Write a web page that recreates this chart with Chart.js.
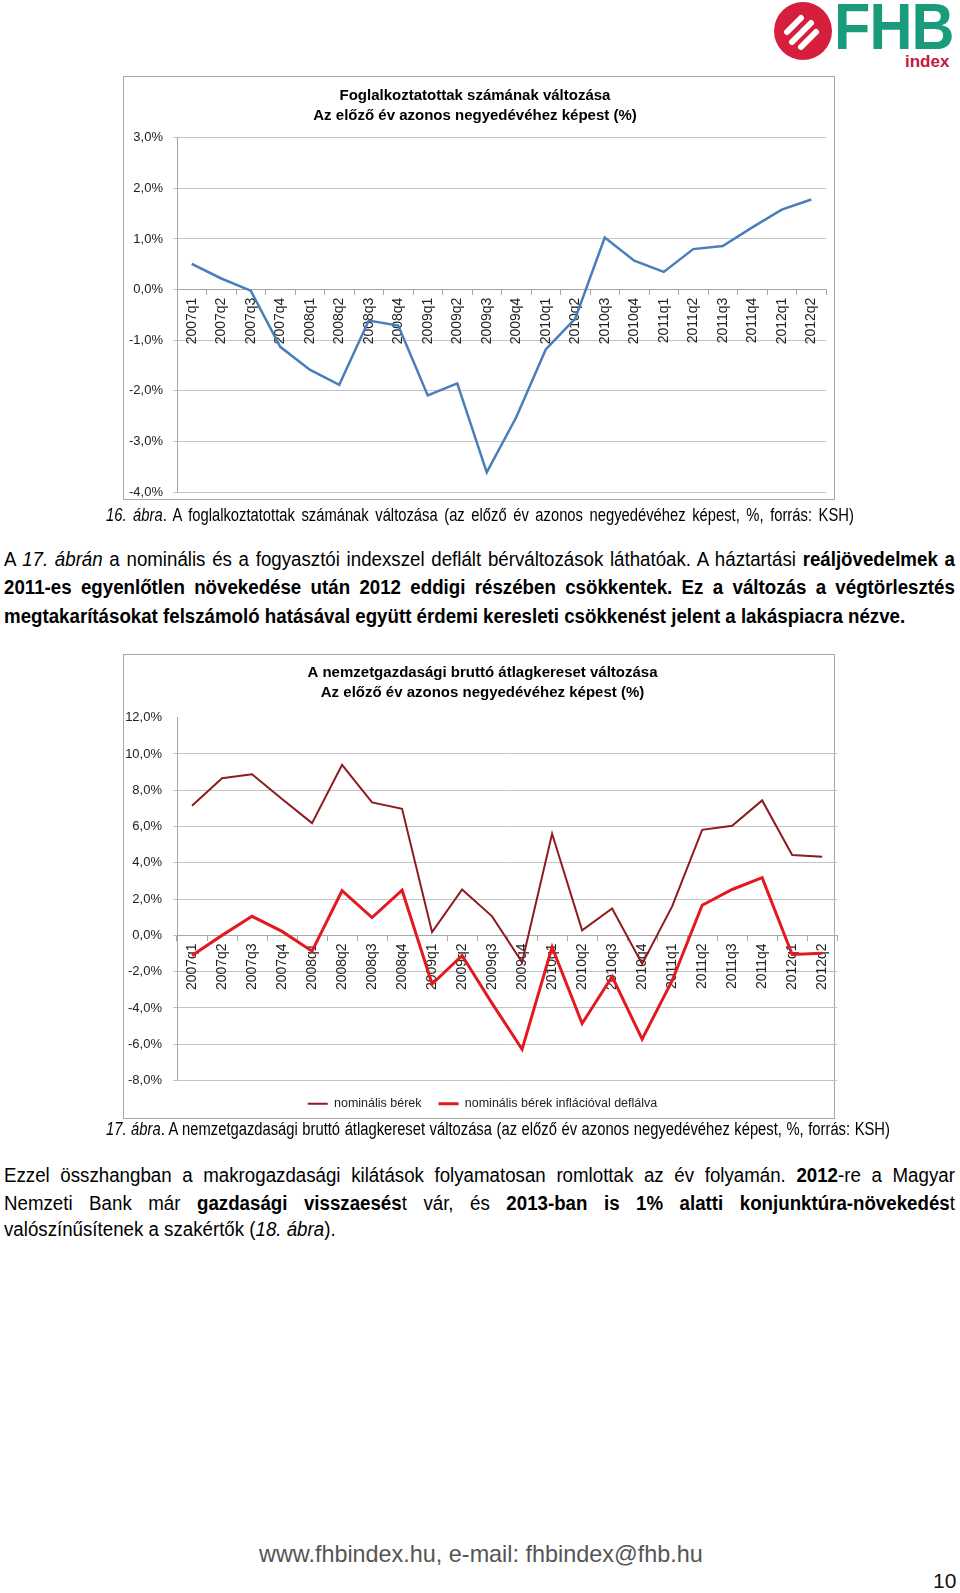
<!DOCTYPE html>
<html>
<head>
<meta charset="utf-8">
<script src="https://cdn.jsdelivr.net/npm/chart.js@4.4.0/dist/chart.umd.min.js"></script>
<style>
  body { margin: 0; width: 960px; height: 1593px; background: #fff; position: relative; overflow: hidden;
         font-family: "Liberation Sans", Arial, sans-serif; color: #000; }
  .box { position: absolute; border: 1px solid #a8a8a8; box-sizing: border-box; }
  canvas { position: absolute; }
  /* no narrow font installed: squeeze Liberation Sans instead */
  .line { position: absolute; left: 4px; width: 1017px; height: 28px; line-height: 28px; font-size: 20px;
          text-align: justify; text-align-last: justify; transform: scaleX(0.935); transform-origin: left top; }
  .last { text-align: left; text-align-last: left; white-space: nowrap; }
  .caption { position: absolute; left: 106px; height: 24px; line-height: 24px; font-size: 18px;
             text-align: justify; text-align-last: justify; transform: scaleX(0.82); transform-origin: left top; }
  .foot { position: absolute; font-size: 23.4px; color: #555; line-height: 26px; white-space: nowrap; }
</style>
</head>
<body>

<!-- logo -->
<svg style="position:absolute;left:770px;top:0" width="68" height="64">
  <circle cx="33" cy="31" r="29" fill="#d51f3c"/>
  <g stroke="#fff" stroke-width="6" stroke-linecap="round">
    <line x1="17" y1="32" x2="31" y2="18"/>
    <line x1="22" y1="42" x2="41" y2="23"/>
    <line x1="31" y1="47" x2="46" y2="32"/>
  </g>
</svg>
<div style="position:absolute;left:834px;top:-8px;font-weight:bold;font-size:64px;line-height:70px;color:#1a9c7c;transform:scaleX(0.93);transform-origin:left top;letter-spacing:-1px">FHB</div>
<div style="position:absolute;left:905px;top:52px;font-weight:bold;font-size:17px;line-height:20px;color:#c41a3c">index</div>

<!-- chart 1 -->
<div class="box" style="left:123px;top:76px;width:712px;height:424px"></div>
<canvas id="chart1" width="711" height="433" style="left:124px;top:77px"></canvas>

<div class="caption" style="top:503px;width:912px"><i>16. ábra</i>. A foglalkoztatottak számának változása (az előző év azonos negyedévéhez képest, %, forrás: KSH)</div>

<div class="line" style="top:545px">A <i>17. ábrán</i> a nominális és a fogyasztói indexszel deflált bérváltozások láthatóak. A háztartási <b>reáljövedelmek a</b></div>
<div class="line" style="top:573px"><b>2011-es egyenlőtlen növekedése után 2012 eddigi részében csökkentek. Ez a változás a végtörlesztés</b></div>
<div class="line last" style="top:602px"><b>megtakarításokat felszámoló hatásával együtt érdemi keresleti csökkenést jelent a lakáspiacra nézve.</b></div>

<!-- chart 2 -->
<div class="box" style="left:123px;top:654px;width:712px;height:465px"></div>
<canvas id="chart2" width="718" height="478" style="left:124px;top:655px"></canvas>

<div class="caption" style="top:1117px;width:956px"><i>17. ábra</i>. A nemzetgazdasági bruttó átlagkereset változása (az előző év azonos negyedévéhez képest, %, forrás: KSH)</div>

<div class="line" style="top:1161px">Ezzel összhangban a makrogazdasági kilátások folyamatosan romlottak az év folyamán. <b>2012</b>-re a Magyar</div>
<div class="line" style="top:1189px">Nemzeti Bank már <b>gazdasági visszaesés</b>t vár, és <b>2013-ban is 1% alatti konjunktúra-növekedés</b>t</div>
<div class="line last" style="top:1215px">valószínűsítenek a szakértők (<i>18. ábra</i>).</div>

<div class="foot" style="left:259px;top:1541px">www.fhbindex.hu, e-mail: fhbindex@fhb.hu</div>
<div class="foot" style="left:933px;top:1568px;font-size:21px;color:#111">10</div>

<script>
// ========= DATA ========= //
const quarters = ['2007q1', '2007q2', '2007q3', '2007q4', '2008q1', '2008q2', '2008q3', '2008q4',
                  '2009q1', '2009q2', '2009q3', '2009q4', '2010q1', '2010q2', '2010q3', '2010q4',
                  '2011q1', '2011q2', '2011q3', '2011q4', '2012q1', '2012q2'];

// foglalkoztatottak számának változása (%)
const employmentChange = [0.51, 0.22, -0.02, -1.13, -1.58, -1.88, -0.61, -0.71,
                          -2.09, -1.85, -3.61, -2.52, -1.18, -0.57, 1.03, 0.57,
                          0.35, 0.80, 0.86, 1.23, 1.58, 1.78];

// bruttó átlagkereset (%)
const nominalWages = [7.15, 8.66, 8.88, 7.52, 6.19, 9.40, 7.33, 6.98,
                      0.18, 2.53, 1.05, -1.48, 5.60, 0.28, 1.48, -1.57,
                      1.60, 5.82, 6.04, 7.44, 4.43, 4.34];
const realWages = [-1.11, 0.00, 1.05, 0.22, -0.87, 2.46, 0.98, 2.49,
                   -2.68, -1.11, -3.75, -6.28, -0.65, -4.86, -2.27, -5.72,
                   -2.50, 1.66, 2.53, 3.18, -1.05, -0.98];

const title1 = ['Foglalkoztatottak számának változása', 'Az előző év azonos negyedévéhez képest (%)'];
const title2 = ['A nemzetgazdasági bruttó átlagkereset változása', 'Az előző év azonos negyedévéhez képest (%)'];
const seriesNames = ['nominális bérek', 'nominális bérek inflációval deflálva'];

// ========= STYLE ========= //
const FONT = '"Liberation Sans", Arial, sans-serif';
const pct = v => v.toFixed(1).replace('.', ',') + '%';

function xScale() {
    return {
        position: { y: 0 },
        offset: true,
        grid: { display: true, drawOnChartArea: false, offset: true, tickLength: 5, color: '#a6a6a6' },
        border: { color: '#a6a6a6' },
        ticks: { minRotation: 90, maxRotation: 90, autoSkip: false, padding: 3,
                 font: { family: FONT, size: 14 }, color: '#222' }
    };
}

function yScale(min, max, step, width, pad, hideTop) {
    return {
        min: min, max: max,
        afterFit: s => { s.width = width; },
        grid: { tickLength: 4, color: c => (hideTop && c.tick && c.tick.value === max) ? 'rgba(0,0,0,0)' : '#c4c4c4' },
        border: { color: '#a6a6a6' },
        ticks: { stepSize: step, padding: pad, callback: v => pct(v),
                 font: { family: FONT, size: 13 }, color: '#222' }
    };
}

// ========= CHART 1 ========= //
new Chart(document.getElementById('chart1'), {
    type: 'line',
    data: {
        labels: quarters,
        datasets: [{ data: employmentChange, borderColor: '#4a7ebb', borderWidth: 2.5,
                     pointRadius: 0, tension: 0, fill: false }]
    },
    options: {
        responsive: false, animation: false,
        layout: { padding: { left: 0, right: 9, top: 0, bottom: 8 } },
        plugins: {
            legend: { display: false },
            tooltip: { enabled: false },
            title: { display: true, text: title1, color: '#000',
                     font: { family: FONT, size: 15, weight: 'bold', lineHeight: 1.39 },
                     padding: { top: 8, bottom: 11 } }
        },
        scales: { x: xScale(), y: yScale(-4, 3, 1, 53, 10, false) }
    }
});

// ========= CHART 2 ========= //
new Chart(document.getElementById('chart2'), {
    type: 'line',
    data: {
        labels: quarters,
        datasets: [
            { label: seriesNames[0], data: nominalWages, borderColor: '#8e1b1f', backgroundColor: '#8e1b1f',
              borderWidth: 2, pointRadius: 0, tension: 0, fill: false },
            { label: seriesNames[1], data: realWages, borderColor: '#e3191f', backgroundColor: '#e3191f',
              borderWidth: 3, pointRadius: 0, tension: 0, fill: false }
        ]
    },
    options: {
        responsive: false, animation: false,
        layout: { padding: { left: 0, right: 1, top: 0, bottom: 13 } },
        plugins: {
            legend: { position: 'bottom',
                      labels: { usePointStyle: true, pointStyle: 'line', pointStyleWidth: 20,
                                padding: 17, color: '#222', font: { family: FONT, size: 12.5 } } },
            tooltip: { enabled: false },
            title: { display: true, text: title2, color: '#000',
                     font: { family: FONT, size: 15, weight: 'bold', lineHeight: 1.39 },
                     padding: { top: 7, bottom: 14 } }
        },
        scales: { x: xScale(), y: yScale(-8, 12, 2, 53, 11, true) }
    }
});
</script>
</body>
</html>
